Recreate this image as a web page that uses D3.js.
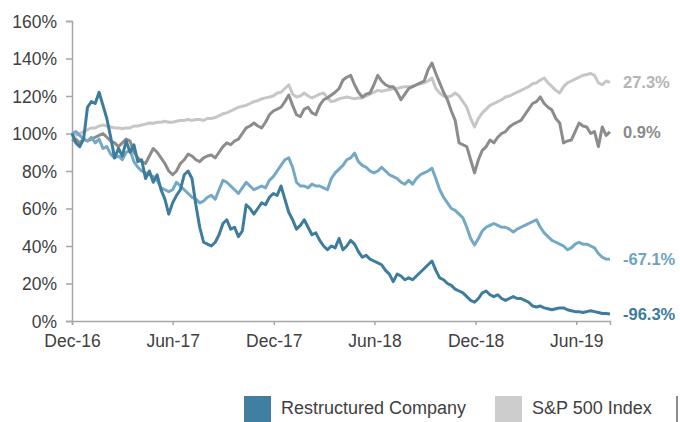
<!DOCTYPE html>
<html>
<head>
<meta charset="utf-8">
<script src="https://cdn.jsdelivr.net/npm/d3@7/dist/d3.min.js"></script>
<style>
  html, body { margin: 0; padding: 0; background: #fff; }
  svg { display: block; font-family: "Liberation Sans", Arial, sans-serif; }
</style>
</head>
<body>
<svg id="chart" width="680" height="422"></svg>
<script>
// Weekly observations, starting 1 Dec 2016 (140 weeks)
const startDate = new Date(2016, 11, 1);
const weeks = 140;

// Indexed total return (%), base = 100 at start
const restructured = [100,95,93,97,114,117,116,122,115,108,98,87,92,88,96,90,94,85,86,76,
  80,74,78,70,65,57,63,67,70,78,80,76,62,50,42,41,40,42,46,52,
  54,49,50,45,48,62,60,57,60,63,62,66,68,67,72,65,58,54,49,51,
  54,50,46,47,43,40,38,40,39,44,38,40,43,41,37,34,35,33,32,31,
  30,27,25,21,25,24,22,23,22,24,26,28,30,32,27,23,22,20,19,17,
  16,15,13,11,10,12,15,16,14,13,14,12,11,12,13,12,12,11,10,8,
  7.5,8,7,6.5,6,6.5,7,7,6,5.5,5,5,4.5,5,5.5,5,4.5,4,4,3.7];

const peerB = [100,101,99,97,96,98,95,97,92,93,89,87,88,86,90,91,85,82,80,79,
  78,77,75,71,70,69,70,74,72,70,68,66,65,63,64,66,67,65,70,75,
  74,72,70,68,71,74,72,70,71,72,71,75,77,80,83,86,87,82,74,72,
  72,71,73,72,72,71,70,76,79,81,83,86,87,89.5,85,83,82,80,79,80,
  82,80,78,77,76,74,73,75,73,76,78,79,80,81.5,76,70,66,63,60,59,
  57,55,50,44,40.5,44,48,50,51,52,51,50,50,49,47.5,49,50,51,52,53,
  54,50,47,45,43,42,41,40,38,39,41,42,41,41,40,39,36,34,33,32.9];

const peerA = [96,97,95,97,96,97,98,99,100,98,96,95,93,95,97,96,90,87,85,84,
  88,92,90,87,84,80,78,80,84,86,89,88,86,85,87,88,88.5,87,90,93,
  95,94,96,97,100,103,104,105.6,104,103,106,110,112,113,114,117,120.5,115,110,109,
  113,114,111,110,115,118,119,120.5,122,124,128.5,130,131,126,122,119.5,121,121.6,126,131,
  128,126,125,125,122,118,121,124,125,126,127,128,134,137.6,132,127,122,118,112,107,
  95,94,93,86,79,86,91,93,96.5,95,98,100,101,103.5,105,106,107,110,113,116,
  117,119.5,116,114,112.5,108,105.6,95,96,96.5,101,105.6,104,103.5,100,101,93,103.5,99,100.9];

const sp500 = [100,99,100,101,102,103,103,104,104.5,104,103.5,103,103,102.5,103,103,104,104,104.5,105,
  105.6,105.5,106,106,106.5,106,106,106.5,107,107,107.5,107,107.5,107.5,107,108,108,108.5,109.5,110.5,
  111,112,113,114,114.5,115,116,117,117.5,118.5,119,119.5,120,121.6,122,124,126,121,119.5,120,
  121.6,120,119,120,121,121.6,119,117,117.5,118.5,119,119.5,119,118.5,119,119,120,121,122,123,
  122.5,123,123.5,124,124,124.5,125,125,125,126,126.5,127,128,129.6,124,121.6,120,119.5,120,121.6,
  120,117,114,108,103.5,108,111,113,115,116,117,118,119.5,120,121,122,123,124,125,126.5,
  127,128.5,129.6,127,125,123,121.6,125,127,128,129,130,131,131.5,132,131,127,126,128,127.3];

const yTicks = [0, 20, 40, 60, 80, 100, 120, 140, 160];
const xTickDates = [new Date(2016,11,1), new Date(2017,5,1), new Date(2017,11,1),
                    new Date(2018,5,1), new Date(2018,11,1), new Date(2019,5,1)];
const xTickLabels = ["Dec-16", "Jun-17", "Dec-17", "Jun-18", "Dec-18", "Jun-19"];
const endLabels = ["27.3%", "0.9%", "-67.1%", "-96.3%"];
const legendNames = ["Restructured Company", "S&P 500 Index"];

const dates = d3.range(weeks).map(i => d3.timeDay.offset(startDate, i * 7));

const series = [
  { name: "S&P 500 Index", values: sp500, color: "#c6c6c6", labelColor: "#b4b4b4", label: endLabels[0] },
  { name: "Peer Group A", values: peerA, color: "#8c8c8c", labelColor: "#8a8a8a", label: endLabels[1] },
  { name: "Peer Group B", values: peerB, color: "#74a9c6", labelColor: "#6aa4c4", label: endLabels[2] },
  { name: "Restructured Company", values: restructured, color: "#3d7c9c", labelColor: "#3c7b9c", label: endLabels[3] }
];

const svg = d3.select("#chart");
const margin = { left: 72, top: 21, right: 70, bottom: 101 };
const width = 680 - margin.left - margin.right;
const height = 422 - margin.top - margin.bottom;

const x = d3.scaleTime()
  .domain([startDate, dates[dates.length - 1]])
  .range([margin.left, margin.left + width]);
const y = d3.scaleLinear()
  .domain([0, 160])
  .range([margin.top + height, margin.top]);

const axisColor = "#a6a6a6";
const textColor = "#404040";

// Y axis
const yAxis = svg.append("g")
  .attr("transform", `translate(${margin.left},0)`)
  .call(d3.axisLeft(y).tickValues(yTicks).tickSize(6).tickPadding(9).tickFormat(d => d + "%"));
yAxis.select(".domain").attr("stroke", axisColor).attr("stroke-width", 1.5);
yAxis.selectAll(".tick line").attr("stroke", axisColor).attr("stroke-width", 1.5);
yAxis.selectAll(".tick text").attr("fill", textColor).style("font-size", "17.5px")
  .attr("dy", "0.35em");

// X axis
const xAxis = svg.append("g")
  .attr("transform", `translate(0,${margin.top + height})`)
  .call(d3.axisBottom(x).tickValues(xTickDates).tickSize(4).tickPadding(10)
    .tickFormat((d, i) => xTickLabels[i]));
xAxis.select(".domain").attr("stroke", axisColor).attr("stroke-width", 1.5);
xAxis.selectAll(".tick line").attr("stroke", axisColor).attr("stroke-width", 1.5);
xAxis.selectAll(".tick text").attr("fill", textColor).style("font-size", "17.5px");

// Lines
const line = d3.line()
  .x((d, i) => x(dates[i]))
  .y(d => y(d))
  .curve(d3.curveLinear);

svg.append("g").selectAll("path")
  .data(series)
  .join("path")
  .attr("fill", "none")
  .attr("stroke", d => d.color)
  .attr("stroke-width", 3)
  .attr("stroke-linejoin", "round")
  .attr("d", d => line(d.values));

// End-of-series labels
svg.append("g").selectAll("text")
  .data(series)
  .join("text")
  .attr("x", margin.left + width + 13)
  .attr("y", d => y(d.values[d.values.length - 1]))
  .attr("dy", "0.35em")
  .attr("fill", d => d.labelColor)
  .style("font-size", "16.5px")
  .style("font-weight", "bold")
  .text(d => d.label);

// Legend
const legend = svg.append("g");
const legendItems = [
  { name: legendNames[0], color: "#3f7fa0", x: 244 },
  { name: legendNames[1], color: "#cdcdcd", x: 495 }
];
legendItems.forEach(it => {
  legend.append("rect").attr("x", it.x).attr("y", 396).attr("width", 27).attr("height", 27)
    .attr("fill", it.color);
  legend.append("text").attr("x", it.x + 37).attr("y", 414).attr("fill", textColor)
    .style("font-size", "18px").text(it.name);
});
legend.append("rect").attr("x", 676).attr("y", 396).attr("width", 2).attr("height", 26)
  .attr("fill", "#8c8c8c");
</script>
</body>
</html>
